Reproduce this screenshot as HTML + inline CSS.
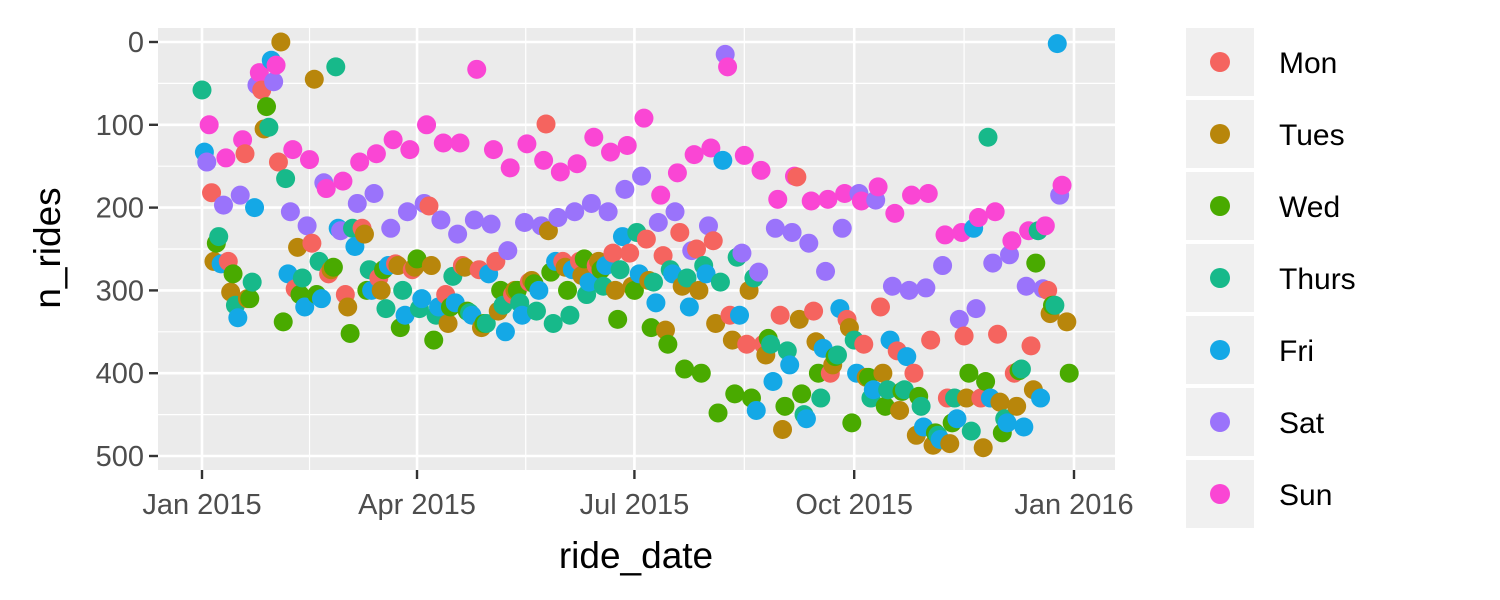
<!DOCTYPE html>
<html><head><meta charset="utf-8"><style>
body{margin:0;background:#fff;width:1500px;height:600px;overflow:hidden}
svg{display:block;font-family:"Liberation Sans",sans-serif}
</style></head><body>
<svg id="chart" width="1500" height="600">
<rect x="158" y="28" width="957" height="442" fill="#ebebeb"/>
<g id="grid"></g><g id="points"></g><g id="axes"></g><g id="legend"></g>
<text x="636" y="568" font-size="37" text-anchor="middle" fill="#000">ride_date</text>
<text transform="translate(60,248) rotate(-90)" font-size="37" text-anchor="middle" fill="#000">n_rides</text>
</svg>
<script>
const dayNames=["Mon","Tues","Wed","Thurs","Fri","Sat","Sun"];
const dayOffsets=[4,5,6,0,1,2,3];
const colors=["#F5645F","#B8860B","#49AA00","#17B98A","#14A8E6","#9A73FB","#FA46D4"];
const monVals=[182,265,135,58,145,298,243,280,305,225,285,268,275,198,305,270,275,265,305,290,99,265,265,270,255,255,238,258,230,250,240,330,365,365,330,163,325,400,335,365,320,373,400,360,430,355,430,353,400,367,300];
const tueVals=[265,302,310,105,0,248,45,275,320,232,300,270,272,270,340,272,345,325,300,288,228,272,282,265,300,295,288,348,295,300,340,360,300,378,468,335,362,390,345,405,400,445,475,487,485,430,490,435,440,420,328,338];
const wedVals=[243,280,310,78,338,305,305,272,352,300,275,345,262,360,320,325,340,300,300,292,278,300,262,275,335,300,345,365,395,400,448,425,430,358,440,425,400,380,460,405,440,422,428,472,460,400,410,472,397,267,318,400];
const thuVals=[58,235,318,290,103,165,285,265,30,225,275,322,300,322,330,283,327,340,318,315,325,340,330,305,295,275,230,290,275,285,270,290,260,285,365,373,450,430,378,360,430,420,420,440,475,430,470,115,455,395,228,318];
const friVals=[133,268,333,200,22,280,320,310,225,247,300,270,330,310,320,315,330,280,350,330,300,265,275,290,270,235,280,315,280,320,280,143,330,445,410,390,455,370,322,400,420,360,380,465,480,455,225,430,460,465,430,2];
const satVals=[145,197,185,52,48,205,222,170,228,195,183,225,205,195,215,232,215,220,252,218,222,212,205,195,205,178,162,218,205,252,222,15,255,278,225,230,243,277,225,183,191,295,300,297,270,335,322,267,257,295,298,185];
const sunVals=[100,140,118,37,28,130,142,177,168,145,135,118,130,100,122,122,33,130,152,123,143,157,147,115,133,125,92,185,158,136,128,30,137,155,190,162,192,190,183,192,175,207,185,183,233,230,212,205,240,228,222,173];
const series=[monVals,tueVals,wedVals,thuVals,friVals,satVals,sunVals];
const yTicks=[0,100,200,300,400,500];
const xTickLabels=["Jan 2015","Apr 2015","Jul 2015","Oct 2015","Jan 2016"];
const xTickDays=[0,90,181,273,365];
const NS="http://www.w3.org/2000/svg";
const xs=d=>202+d*(872/365);
const ys=v=>42+v*(414/500);
function mk(tag,attrs,parent){const e=document.createElementNS(NS,tag);for(const k in attrs)e.setAttribute(k,attrs[k]);parent.appendChild(e);return e;}
const grid=document.getElementById('grid'),axes=document.getElementById('axes');
for(let i=0;i<yTicks.length-1;i++){const m=(yTicks[i]+yTicks[i+1])/2;const l=mk('line',{x1:158,x2:1115,y1:ys(m),y2:ys(m),stroke:'#fff','stroke-width':1.2},grid);

}
for(let i=0;i<xTickDays.length-1;i++){const m=(xTickDays[i]+xTickDays[i+1])/2;const l=mk('line',{x1:xs(m),x2:xs(m),y1:28,y2:470,stroke:'#fff','stroke-width':1.2},grid);

}
yTicks.forEach(v=>{const l=mk('line',{x1:158,x2:1115,y1:ys(v),y2:ys(v),stroke:'#fff','stroke-width':2.6},grid);


const t=mk('line',{x1:149,x2:158,y1:ys(v),y2:ys(v),stroke:'#333','stroke-width':2.4},axes);


const tx=mk('text',{x:144,y:ys(v)+10,'font-size':29,'text-anchor':'end',fill:'#4d4d4d'},axes);tx.textContent=v;

});
xTickDays.forEach((d,i)=>{const l=mk('line',{x1:xs(d),x2:xs(d),y1:28,y2:470,stroke:'#fff','stroke-width':2.6},grid);


const t=mk('line',{x1:xs(d),x2:xs(d),y1:470,y2:479,stroke:'#333','stroke-width':2.4},axes);


const tx=mk('text',{x:xs(d),y:514,'font-size':29,'text-anchor':'middle',fill:'#4d4d4d'},axes);tx.textContent=xTickLabels[i];

});
const pts=[];
series.forEach((arr,s)=>arr.forEach((v,i)=>{const d=dayOffsets[s]+7*i;if(d<365)pts.push([d,v,s]);}));
pts.sort((a,b)=>a[0]-b[0]);
const pg=document.getElementById('points');
pts.forEach(p=>{const c=mk('circle',{cx:xs(p[0]),cy:ys(p[1]),r:9.5,fill:colors[p[2]]},pg);

});
const lg=document.getElementById('legend');
dayNames.forEach((n,i)=>{const y0=28+i*72;
const g=mk('g',{},lg);


mk('rect',{x:1186,y:y0,width:68,height:68,fill:'#f0f0f0'},g);
mk('circle',{cx:1220,cy:y0+34,r:10,fill:colors[i]},g);
const t=mk('text',{x:1279,y:y0+45,'font-size':30,fill:'#000'},g);t.textContent=n;});
</script>
</body></html>
